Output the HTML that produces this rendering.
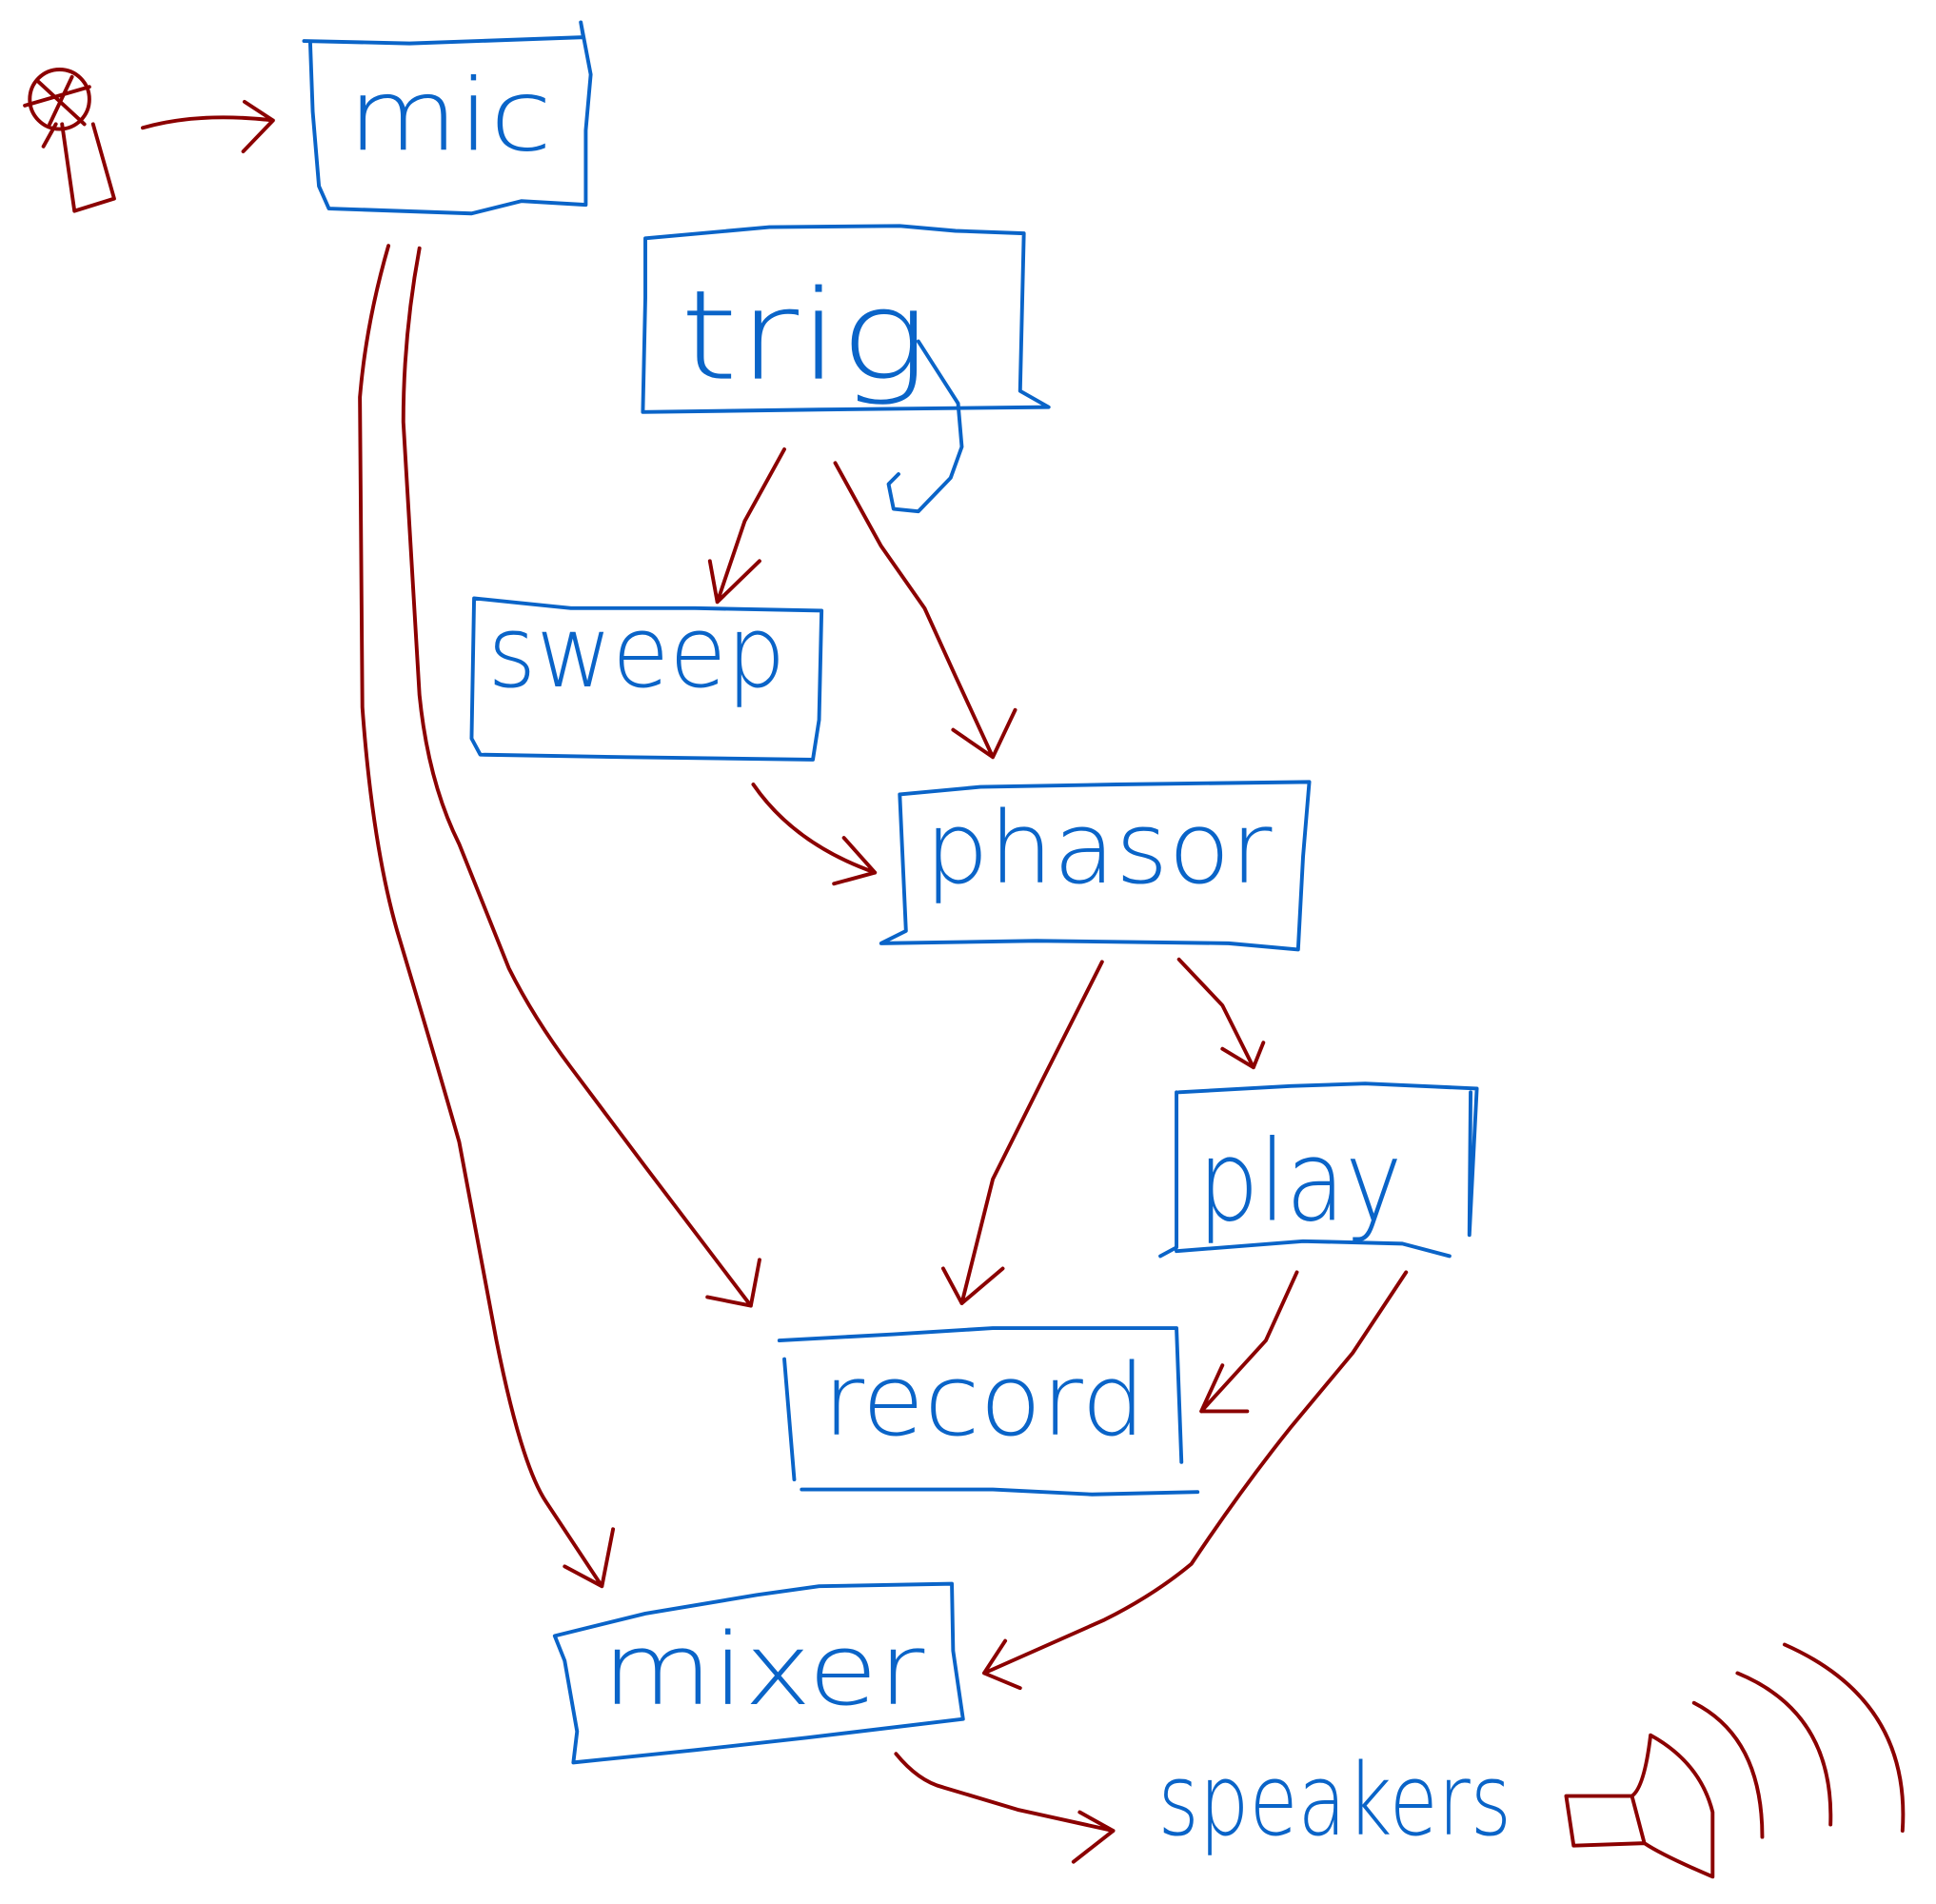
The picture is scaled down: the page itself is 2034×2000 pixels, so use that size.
<!DOCTYPE html>
<html><head><style>html,body{margin:0;padding:0;background:#fff;}svg{display:block}</style></head>
<body>
<svg width="2034" height="2000" viewBox="0 0 1560 1534" preserveAspectRatio="none" xmlns="http://www.w3.org/2000/svg">
<g fill="none" stroke="#0a64c8" stroke-width="3" stroke-linejoin="round" stroke-linecap="round">
<path d="M245,33 L330,35 L470,30 L468,18 L476,60 L472,105 L472,165 L420,162 L380,172 L265,168 L257,150 L252,90 L250,35"/>
<path d="M520,192 L620,183 L725,182 L770,186 L825,188 L822,315 L845,328 L660,330 L518,332 L520,240 Z"/>
<path d="M382,482 L460,490 L560,490 L662,492 L660,580 L655,612 L505,610 L387,608 L380,595 Z"/>
<path d="M725,640 L790,634 L900,632 L1055,630 L1050,690 L1046,765 L990,760 L835,758 L710,760 L730,750 L725,640"/>
<path d="M950,880 L1040,875 L1100,873 L1190,877 L1184,995 L1185,880 M948,1008 L1050,1000 L1130,1002 L1168,1012 M935,1012 L948,1005 L948,880"/>
<path d="M628,1080 L720,1075 L800,1070 L948,1070 L952,1178 L948,1070 M640,1192 L632,1095 M646,1200 L800,1200 L880,1204 L965,1202"/>
<path d="M447,1318 L520,1300 L610,1285 L660,1278 L767,1276 L768,1330 L776,1385 L650,1400 L560,1410 L462,1420 L465,1395 L455,1338 Z"/>
<path d="M740,275 L772,325 L775,360 L766,385 L740,412 L720,410 L716,390 L724,382"/>
</g>
<g fill="#0a64c8" font-family="DejaVu Sans, Liberation Sans, sans-serif" font-weight="200">
<text x="280" y="121" font-size="80" textLength="165" lengthAdjust="spacingAndGlyphs">mic</text>
<text x="548" y="305" font-size="100" textLength="200" lengthAdjust="spacingAndGlyphs">trig</text>
<text x="393" y="553" font-size="80" textLength="240" lengthAdjust="spacingAndGlyphs">sweep</text>
<text x="745" y="711" font-size="80" textLength="280" lengthAdjust="spacingAndGlyphs">phasor</text>
<text x="965" y="983" font-size="90" textLength="165" lengthAdjust="spacingAndGlyphs">play</text>
<text x="663" y="1156" font-size="80" textLength="260" lengthAdjust="spacingAndGlyphs">record</text>
<text x="485" y="1373" font-size="80" textLength="260" lengthAdjust="spacingAndGlyphs">mixer</text>
<text x="933" y="1478" font-size="80" textLength="285" lengthAdjust="spacingAndGlyphs">speakers</text>
</g>
<g fill="none" stroke="#8b0000" stroke-width="3" stroke-linejoin="round" stroke-linecap="round">
<circle cx="48" cy="80" r="24"/>
<path d="M30,65 L68,100 M40,100 L58,62 M20,85 L72,70 M35,118 L45,100"/>
<path d="M50,100 L60,170 L92,160 L75,100"/>
<path d="M115,103 Q160,90 220,97 M197,82 L220,97 L196,122"/>
<path d="M313,198 Q295,260 290,320 L292,570 Q300,680 320,750 Q350,850 370,920 Q385,1000 400,1080 Q420,1180 440,1210 L485,1278 M455,1262 L485,1278 L494,1232"/>
<path d="M338,200 Q325,270 325,340 L338,560 Q345,630 370,680 Q390,730 410,780 Q430,820 460,860 L520,940 L605,1052 M570,1045 L605,1052 L612,1015"/>
<path d="M632,362 L600,420 L578,485 M572,452 L578,485 L612,452"/>
<path d="M673,373 L710,440 L745,490 L770,545 L800,610 M768,588 L800,610 L818,572"/>
<path d="M607,632 Q640,680 705,703 M680,675 L705,703 L672,712"/>
<path d="M888,775 L840,870 L800,950 L775,1050 M760,1022 L775,1050 L808,1022"/>
<path d="M950,773 L985,810 L1010,860 M985,845 L1010,860 L1018,840"/>
<path d="M1045,1025 L1020,1080 L968,1137 M985,1100 L968,1137 L1005,1137"/>
<path d="M1133,1025 L1090,1090 L1040,1150 Q1000,1200 960,1260 Q930,1285 890,1305 L793,1348 M810,1322 L793,1348 L822,1360"/>
<path d="M722,1413 Q740,1435 760,1440 L820,1458 L897,1475 M870,1460 L897,1475 L865,1500"/>
<path d="M1262,1447 L1315,1447 Q1325,1440 1330,1398 Q1370,1420 1380,1460 L1380,1512 Q1340,1495 1325,1485 L1268,1487 L1262,1447 M1315,1447 L1325,1485"/>
<path d="M1365,1372 Q1420,1400 1420,1480 M1400,1348 Q1478,1380 1475,1470 M1438,1325 Q1540,1370 1533,1475"/>
</g>
</svg>
</body></html>
